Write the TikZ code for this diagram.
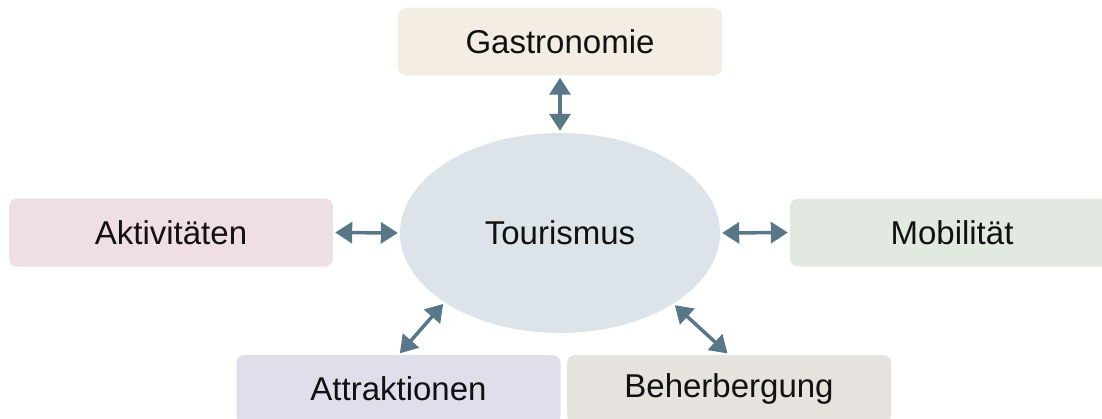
\documentclass[tikz,border=0pt]{standalone}
\usepackage{fontspec}
\setmainfont{Liberation Sans}
\usetikzlibrary{arrows.meta,shapes.geometric}
\definecolor{cGas}{HTML}{F3EDE3}
\definecolor{cAkt}{HTML}{EFDEE3}
\definecolor{cMob}{HTML}{E1E9E1}
\definecolor{cAtt}{HTML}{DFDFEB}
\definecolor{cBeh}{HTML}{E6E2DD}
\definecolor{cTour}{HTML}{DCE4E9}
\definecolor{cArr}{HTML}{587889}
\definecolor{cTxt}{HTML}{111111}
\tikzset{
  topic/.style={draw=none, rounded corners=8pt, minimum width=324pt, minimum height=68pt, inner sep=0pt,
    font=\fontsize{33}{38}\selectfont, text=cTxt},
  link/.style={cArr, line width=3.5pt, {Triangle[length=17pt,width=21pt]}-{Triangle[length=17pt,width=21pt]}, shorten <=2pt, shorten >=2pt},
}
\begin{document}
\begin{tikzpicture}[x=1pt,y=-1pt]
\useasboundingbox (0,0) rectangle (1102,418);
\clip (0,0) rectangle (1102,418);
\node[fill=cTour, ellipse, minimum width=320pt, minimum height=200pt, inner sep=0pt, font=\fontsize{33}{38}\selectfont, text=cTxt] (t) at (560,233) {Tourismus};
\node[topic, fill=cGas] (gas) at (560,41.5) {Gastronomie};
\node[topic, fill=cAkt] (akt) at (171,232.5) {Aktivitäten};
\node[topic, fill=cMob] (mob) at (952,232.5) {Mobilität};
\node[topic, fill=cAtt] (att) at (398.5,389) {Attraktionen};
\node[topic, fill=cBeh] (beh) at (729,389) {Beherbergung};
\draw[link] (gas.south) -- (t.north);
\draw[link] (akt.east) -- (t.west);
\draw[link] (t.east) -- (mob.west);
\draw[link] (t.211.9) -- (att.north);
\draw[link] (t.328.7) -- (beh.north);
\end{tikzpicture}
\end{document}
